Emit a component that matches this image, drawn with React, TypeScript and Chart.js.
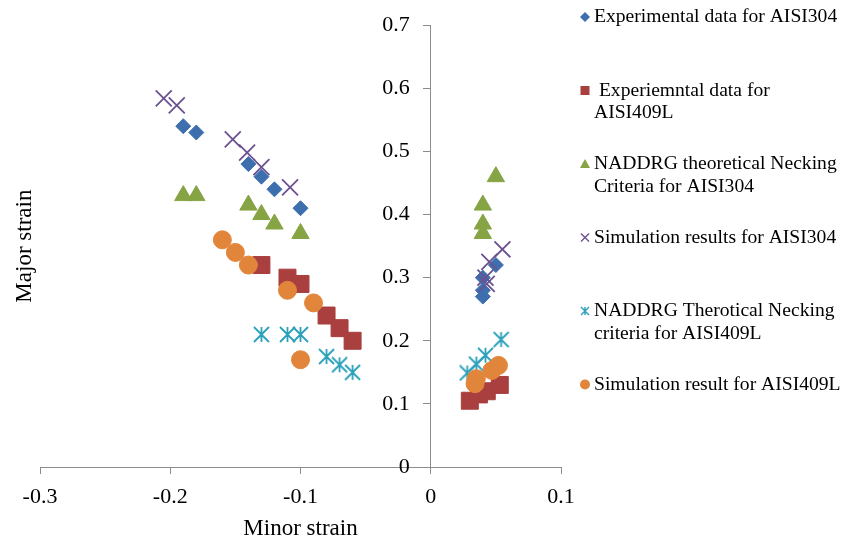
import React, { useEffect, useRef } from 'react';
import { Chart, registerables } from 'chart.js';

Chart.register(...registerables);

// ---------- data ----------
const xRange = [-0.3, 0.1];
const yRange = [0, 0.7];
const tickStep = 0.1;

const seriesNames: string[][] = [
  ['Experimental data for AISI304'],
  [' Experiemntal data for', 'AISI409L'],
  ['NADDRG theoretical Necking', 'Criteria for AISI304'],
  ['Simulation results for AISI304'],
  ['NADDRG Therotical Necking', 'criteria for AISI409L'],
  ['Simulation result for AISI409L'],
];

const exp304X = [-0.19, -0.18, -0.14, -0.13, -0.12, -0.1, 0.04, 0.04, 0.04, 0.05];
const exp304Y = [0.54, 0.53, 0.48, 0.46, 0.44, 0.41, 0.3, 0.28, 0.27, 0.32];

const exp409X = [-0.13, -0.11, -0.1, -0.08, -0.07, -0.06, 0.03, 0.037, 0.043, 0.053];
const exp409Y = [0.32, 0.3, 0.29, 0.24, 0.22, 0.2, 0.105, 0.115, 0.12, 0.13];

const nad304X = [-0.19, -0.18, -0.14, -0.13, -0.12, -0.1, 0.05, 0.04, 0.04, 0.04];
const nad304Y = [0.43, 0.43, 0.415, 0.4, 0.385, 0.37, 0.46, 0.415, 0.385, 0.37];

const sim304X = [-0.205, -0.195, -0.152, -0.141, -0.13, -0.108, 0.055, 0.045, 0.042, 0.043];
const sim304Y = [0.584, 0.573, 0.519, 0.498, 0.475, 0.443, 0.345, 0.325, 0.3, 0.29];

const nad409X = [-0.13, -0.11, -0.1, -0.08, -0.07, -0.06, 0.054, 0.042, 0.035, 0.028];
const nad409Y = [0.21, 0.21, 0.21, 0.175, 0.162, 0.15, 0.202, 0.177, 0.163, 0.149];

const sim409X = [-0.16, -0.15, -0.14, -0.11, -0.09, -0.1, 0.052, 0.047, 0.035, 0.034];
const sim409Y = [0.36, 0.34, 0.32, 0.28, 0.26, 0.17, 0.161, 0.153, 0.14, 0.132];

// ---------- styles ----------
const colors = ['#3d6fae', '#a93f3f', '#86a444', '#6c5190', '#2ba0bb', '#e1853a'];
const FONT = "'Liberation Serif', 'Times New Roman', serif";
const AXIS_COLOR = '#8c8c8c';

function pairs(xs: number[], ys: number[]) {
  return xs.map((x, i) => ({ x, y: ys[i] }));
}

function makeAsterisk(size: number, color: string, lw: number) {
  const c = document.createElement('canvas');
  c.width = size;
  c.height = size;
  const ctx = c.getContext('2d')!;
  ctx.strokeStyle = color;
  ctx.lineWidth = lw;
  ctx.lineCap = 'butt';
  const m = size / 2;
  const r = size / 2 - 1;
  ctx.beginPath();
  ctx.moveTo(m, m - r);
  ctx.lineTo(m, m + r);
  ctx.moveTo(m - r, m - r);
  ctx.lineTo(m + r, m + r);
  ctx.moveTo(m + r, m - r);
  ctx.lineTo(m - r, m + r);
  ctx.stroke();
  return c;
}

function drawLegendMarker(ctx: CanvasRenderingContext2D, i: number, x: number, y: number) {
  const col = colors[i];
  ctx.save();
  ctx.fillStyle = col;
  ctx.strokeStyle = col;
  ctx.beginPath();
  if (i === 0) {
    const r = 5;
    ctx.moveTo(x, y - r);
    ctx.lineTo(x + r, y);
    ctx.lineTo(x, y + r);
    ctx.lineTo(x - r, y);
    ctx.closePath();
    ctx.fill();
  } else if (i === 1) {
    ctx.rect(x - 4.5, y - 4.5, 9, 9);
    ctx.fill();
  } else if (i === 2) {
    ctx.moveTo(x, y - 5);
    ctx.lineTo(x + 5, y + 4);
    ctx.lineTo(x - 5, y + 4);
    ctx.closePath();
    ctx.fill();
  } else if (i === 3) {
    ctx.lineWidth = 1.4;
    const r = 4;
    ctx.moveTo(x - r, y - r);
    ctx.lineTo(x + r, y + r);
    ctx.moveTo(x + r, y - r);
    ctx.lineTo(x - r, y + r);
    ctx.stroke();
  } else if (i === 4) {
    ctx.lineWidth = 1.4;
    const r = 4;
    ctx.moveTo(x, y - r);
    ctx.lineTo(x, y + r);
    ctx.moveTo(x - r, y - r);
    ctx.lineTo(x + r, y + r);
    ctx.moveTo(x + r, y - r);
    ctx.lineTo(x - r, y + r);
    ctx.stroke();
  } else {
    ctx.arc(x, y, 5, 0, Math.PI * 2);
    ctx.fill();
  }
  ctx.restore();
}

const LEGEND_MX = 585;
const LEGEND_TX = 594;
const LEGEND_TOP = 17;
const LEGEND_GAP = 73.5;
const LEGEND_LH = 22.8;

const customPlugin = {
  id: 'customLegendTitle',
  afterDraw(chart: any) {
    const ctx: CanvasRenderingContext2D = chart.ctx;
    ctx.save();
    ctx.font = `19.6px ${FONT}`;
    ctx.fillStyle = '#000';
    ctx.textBaseline = 'middle';
    ctx.textAlign = 'left';
    seriesNames.forEach((lines, i) => {
      const y0 = LEGEND_TOP + i * LEGEND_GAP;
      drawLegendMarker(ctx, i, LEGEND_MX, y0);
      lines.forEach((t, j) => ctx.fillText(t, LEGEND_TX, y0 + j * LEGEND_LH));
    });
    const ca = chart.chartArea;
    ctx.translate(25, (ca.top + ca.bottom) / 2);
    ctx.rotate(-Math.PI / 2);
    ctx.textAlign = 'center';
    ctx.font = `23px ${FONT}`;
    ctx.fillText('Major strain', 0, 0);
    ctx.restore();
  },
};

export default function App() {
  const ref = useRef<HTMLCanvasElement | null>(null);

  useEffect(() => {
    if (!ref.current) return;
    const asterisk = makeAsterisk(17, colors[4], 1.8);
    const chart = new Chart(ref.current, {
      type: 'scatter',
      data: {
        datasets: [
          {
            label: seriesNames[0].join(' '),
            data: pairs(exp304X, exp304Y),
            pointStyle: 'rectRot',
            pointRadius: 7.5,
            backgroundColor: colors[0],
            borderColor: colors[0],
            borderWidth: 1,
            order: 5,
          },
          {
            label: seriesNames[1].join(' '),
            data: pairs(exp409X, exp409Y),
            pointStyle: 'rect',
            pointRadius: 12,
            backgroundColor: colors[1],
            borderColor: colors[1],
            borderWidth: 1,
            order: 4,
          },
          {
            label: seriesNames[2].join(' '),
            data: pairs(nad304X, nad304Y),
            pointStyle: 'triangle',
            pointRadius: 10,
            backgroundColor: colors[2],
            borderColor: colors[2],
            borderWidth: 1,
            order: 3,
          },
          {
            label: seriesNames[3].join(' '),
            data: pairs(sim304X, sim304Y),
            pointStyle: 'crossRot',
            pointRadius: 11.3,
            backgroundColor: colors[3],
            borderColor: colors[3],
            borderWidth: 1.8,
            order: 2,
          },
          {
            label: seriesNames[4].join(' '),
            data: pairs(nad409X, nad409Y),
            pointStyle: asterisk as any,
            pointRadius: 8,
            backgroundColor: colors[4],
            borderColor: colors[4],
            order: 1,
          },
          {
            label: seriesNames[5].join(' '),
            data: pairs(sim409X, sim409Y),
            pointStyle: 'circle',
            pointRadius: 9,
            backgroundColor: colors[5],
            borderColor: colors[5],
            borderWidth: 1,
            order: 0,
          },
        ],
      },
      options: {
        animation: false,
        responsive: false,
        devicePixelRatio: 1,
        layout: { padding: { left: 40, top: 23, right: 297, bottom: 0 } },
        plugins: {
          legend: { display: false },
          tooltip: { enabled: false },
        },
        scales: {
          x: {
            type: 'linear',
            position: 'bottom',
            min: xRange[0],
            max: xRange[1],
            ticks: {
              stepSize: tickStep,
              color: '#000',
              font: { family: FONT, size: 22 },
              padding: 10,
              maxRotation: 0,
            },
            grid: {
              display: true,
              drawOnChartArea: false,
              drawTicks: true,
              tickLength: 7,
              color: AXIS_COLOR,
            },
            border: { display: true, color: AXIS_COLOR, width: 1 },
            title: {
              display: true,
              text: 'Minor strain',
              color: '#000',
              font: { family: FONT, size: 23 },
              padding: { top: 0, bottom: -3 },
            },
            afterFit: (scale: any) => {
              scale.height = 73;
            },
          },
          y: {
            type: 'linear',
            position: { x: 0 } as any,
            min: yRange[0],
            max: yRange[1],
            ticks: {
              stepSize: tickStep,
              color: '#000',
              font: { family: FONT, size: 22 },
              padding: 12,
              // the axis sits inside the plot; keep labels clear of the tick marks
              callback: (v: any) => `${Number(v.toFixed(1))}   \u2009`,
            },
            grid: {
              display: true,
              drawOnChartArea: false,
              drawTicks: true,
              tickLength: 7,
              color: AXIS_COLOR,
            },
            border: { display: true, color: AXIS_COLOR, width: 1 },
            title: { display: false },
          },
        },
      },
      plugins: [customPlugin],
    });
    return () => chart.destroy();
  }, []);

  return (
    <div style={{ position: 'fixed', left: 0, top: 0, width: 858, height: 540, background: '#fff' }}>
      <canvas ref={ref} width={858} height={540} />
    </div>
  );
}
